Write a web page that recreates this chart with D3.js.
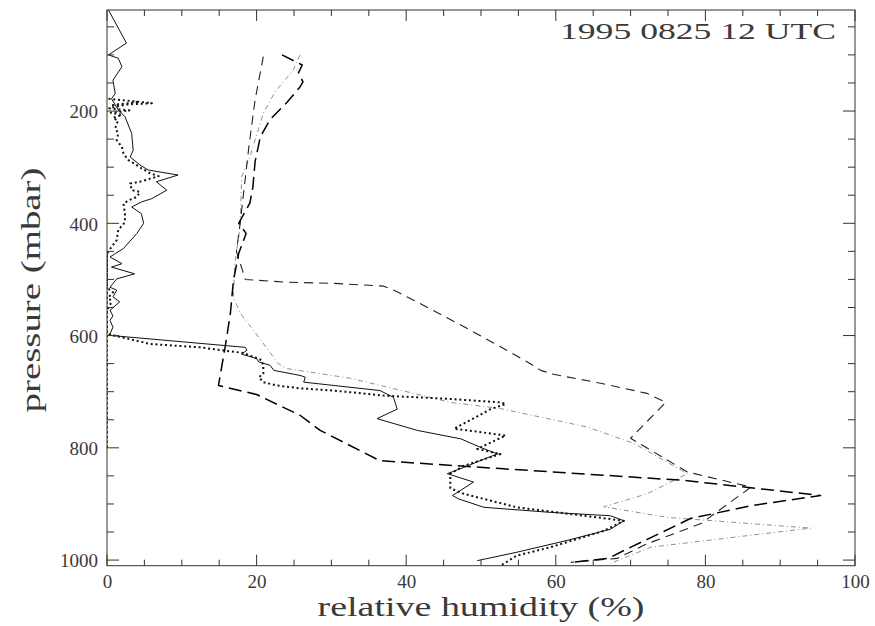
<!DOCTYPE html>
<html>
<head>
<meta charset="utf-8">
<script src="https://cdn.jsdelivr.net/npm/d3@7"></script>
<style>
  html, body { margin: 0; padding: 0; background: #fff; }
  svg { display: block; }
  text { font-family: "Liberation Serif", "DejaVu Serif", serif; font-weight: normal; fill: #3a3a3a; }
</style>
</head>
<body>
<svg id="chart" width="875" height="626"></svg>
<script>
// ---- data (relative humidity %, pressure mbar) ----
const title = "1995 0825 12 UTC";
const xLabel = "relative humidity (%)";
const yLabel = "pressure (mbar)";
const xTicks = [0, 20, 40, 60, 80, 100];
const yTicks = [200, 400, 600, 800, 1000];

// solid thin profile
const solidRH = [0.2,2.6,0.2,1.5,2,0.8,1.1,0.6,1.5,2.4,3.3,3.5,3.1,4.4,5.5,9.5,6.6,8,6,4.6,3.3,4.6,4.9,4,2.2,1.1,0.4,2,0.6,3.7,1.3,0.4,1.3,0.8,1.7,0.4,0.8,0.4,0.8,0.4,0.6,18.5,18.7,18,20,20.3,21.8,22.3,25.8,26.5,26.3,36.5,38.3,38.8,36.1,41.5,47.3,49.9,52.2,50.4,47.7,45.5,49,46.2,47,50.4,59.3,67.3,69.1,67.3,61.5,54.8,49.5];
const solidP  = [20,79,100,106,121,145,169,178,198,210,240,270,282,296,305,314,326,341,356,362,371,383,400,418,445,454,460,472,478,490,499,514,519,531,540,555,565,573,585,597,600,621,626,633,641,647,653,662,671,674,683,698,710,731,748,769,784,799,811,820,835,846,861,885,891,906,915,921,930,945,965,986,1001];

// heavy dotted profile
const dotRH = [0.2,6,0.5,4,0.3,3,0.5,2,0.8,1.5,1.3,1.1,1.5,1.3,2,2.2,2.9,3.7,4.6,5.8,6.9,4.4,3.1,3.3,4.4,4,2.9,2.2,2.4,2.4,1.5,1.3,0.6,0,0,0.4,0.8,0.2,0.6,0,0,5.8,12.4,18.2,19.6,20.7,20.9,20.9,20.3,20.9,22.7,25.8,30.3,37,45.9,52.6,53.3,51.3,46.4,48.2,53.3,49.5,52.6,47.7,45.9,45.9,47.7,54.8,63.8,69.1,66.4,59.3,54.8,52.6];
const dotP  = [178,186,190,184,195,199,203,207,212,218,222,231,240,252,264,276,288,294,302,311,316,326,329,341,344,353,359,365,383,398,412,430,442,454,514,519,523,532,540,555,597,615,621,631,638,644,656,668,674,683,689,694,698,707,713,719,722,731,766,769,778,802,811,832,846,872,882,906,921,930,948,977,992,1010];
// dotted values lying on the 0 % axis
const dotZeroRH = [0, 0];
const dotZeroP  = [454, 800];

// long heavy dashes
const longRH = [23.4,26.1,25.6,26.2,25.8,24.1,21.8,20.5,19.8,19.5,19.1,17.6,18.6,17.6,16.9,16.5,15.8,14.9,20,25.8,28.5,36.5,42.3,52.6,77.1,95.4,86.1,78,72.7,69.1,67,62.2];
const longP  = [100,118,132,148,157,184,215,246,290,336,364,400,418,454,502,560,620,689,705,742,769,823,828,837,858,885,903,926,960,983,997,1004];

// medium dashes
const medRH = [20.9,19.8,19.0,18.4,17.8,17.3,18.5,24.1,30.3,37,38.8,41,48.1,52.6,56.2,58,59.7,66,72.2,74.7,70,77.6,86.1,79.4,72.2,68.2,62];
const medP  = [103,180,260,330,400,450,500,505,507,512,522,537,587,620,647,662,669,685,703,719,783,843,870,935,971,997,1004];

// grey dash-dot
const greyRH = [25.8,24.9,22.5,20.9,19.1,18,17.8,17.1,16.9,17.8,19.6,22.9,24.1,32.5,41,45.9,52.6,64.2,70.4,77.6,72.2,66.4,75,94.1,72.7,67.3];
const greyP  = [100,127,165,204,282,317,406,471,531,560,591,650,659,676,703,719,730,763,792,846,882,905,924,943,977,1006];

// ---- layout ----
const svg = d3.select("#chart");
const L = 107, R = 855, T = 10, B = 565.7;
const x = d3.scaleLinear().domain([0, 100]).range([L, R]);
const y = d3.scaleLinear().domain([20, 1010]).range([T, B]);

const zip = (a, b) => a.map((v, i) => [v, b[i]]);
const line = d3.line().x(d => x(d[0])).y(d => y(d[1]));

const g = svg.append("g");
g.append("defs").append("clipPath").attr("id", "clip")
  .append("rect").attr("x", L).attr("y", T).attr("width", R - L).attr("height", B - T);

const plot = g.append("g").attr("clip-path", "url(#clip)");

const series = [
  { data: zip(greyRH, greyP), stroke: "#8f8f8f", width: 1, dash: "5,3,1,3" },
  { data: zip(medRH, medP), stroke: "#222", width: 1.1, dash: "9,6" },
  { data: zip(longRH, longP), stroke: "#000", width: 1.5, dash: "13,6" },
  { data: zip(solidRH, solidP), stroke: "#111", width: 1, dash: null },
  { data: zip(dotRH, dotP), stroke: "#111", width: 2, dash: "2,2.8" },
  { data: zip(dotZeroRH, dotZeroP), stroke: "#111", width: 2, dash: "2,2.8" }
];
series.forEach(s => {
  plot.append("path")
    .attr("d", line(s.data))
    .attr("fill", "none")
    .attr("stroke", s.stroke)
    .attr("stroke-width", s.width)
    .attr("stroke-dasharray", s.dash)
    .attr("stroke-linejoin", "round");
});

// ---- axes ----
const axisColor = "#333";
const xMajor = xTicks;
const xMinor = d3.range(0, 101, 5).filter(v => v % 20 !== 0);
const yMajor = yTicks;
const yMinor = d3.range(50, 1001, 50).filter(v => v % 200 !== 0);

const axB = d3.axisBottom(x).tickValues(xMajor).tickSize(0).tickPadding(9).tickFormat(d3.format("d"));
const axL = d3.axisLeft(y).tickValues(yMajor).tickSize(0).tickPadding(9).tickFormat(d3.format("d"));

const gx = g.append("g").attr("transform", `translate(0,${B})`).call(axB);
const gy = g.append("g").attr("transform", `translate(${L},0)`).call(axL);
[gx, gy].forEach(a => {
  a.select(".domain").remove();
  a.selectAll("text").attr("font-family", "Liberation Serif, DejaVu Serif, serif")
    .attr("font-size", 19).attr("fill", "#444");
});
gy.selectAll("text").attr("dy", "0.36em");

// tick marks on all four sides
const tk = g.append("g").attr("stroke", axisColor).attr("stroke-width", 1);
xMajor.forEach(v => {
  tk.append("line").attr("x1", x(v)).attr("x2", x(v)).attr("y1", B).attr("y2", B - 11);
  tk.append("line").attr("x1", x(v)).attr("x2", x(v)).attr("y1", T).attr("y2", T + 11);
});
xMinor.forEach(v => {
  tk.append("line").attr("x1", x(v)).attr("x2", x(v)).attr("y1", B).attr("y2", B - 6);
  tk.append("line").attr("x1", x(v)).attr("x2", x(v)).attr("y1", T).attr("y2", T + 6);
});
yMajor.forEach(v => {
  tk.append("line").attr("x1", L).attr("x2", L + 12).attr("y1", y(v)).attr("y2", y(v));
  tk.append("line").attr("x1", R).attr("x2", R - 12).attr("y1", y(v)).attr("y2", y(v));
});
yMinor.forEach(v => {
  tk.append("line").attr("x1", L).attr("x2", L + 7).attr("y1", y(v)).attr("y2", y(v));
  tk.append("line").attr("x1", R).attr("x2", R - 7).attr("y1", y(v)).attr("y2", y(v));
});

// frame
g.append("rect").attr("x", L).attr("y", T).attr("width", R - L).attr("height", B - T)
  .attr("fill", "none").attr("stroke", axisColor).attr("stroke-width", 1);

// labels
g.append("text").attr("x", (L + R) / 2).attr("y", 616).attr("text-anchor", "middle")
  .attr("font-size", 27).attr("textLength", 327).attr("lengthAdjust", "spacingAndGlyphs")
  .attr("fill", "#555").text(xLabel);
g.append("text").attr("transform", `translate(40,${290}) rotate(-90)`).attr("text-anchor", "middle")
  .attr("font-size", 28).attr("textLength", 245).attr("lengthAdjust", "spacingAndGlyphs")
  .attr("fill", "#555").text(yLabel);
g.append("text").attr("x", 836).attr("y", 39).attr("text-anchor", "end")
  .attr("font-size", 24).attr("textLength", 276).attr("lengthAdjust", "spacingAndGlyphs")
  .attr("fill", "#555").text(title);
</script>
</body>
</html>
